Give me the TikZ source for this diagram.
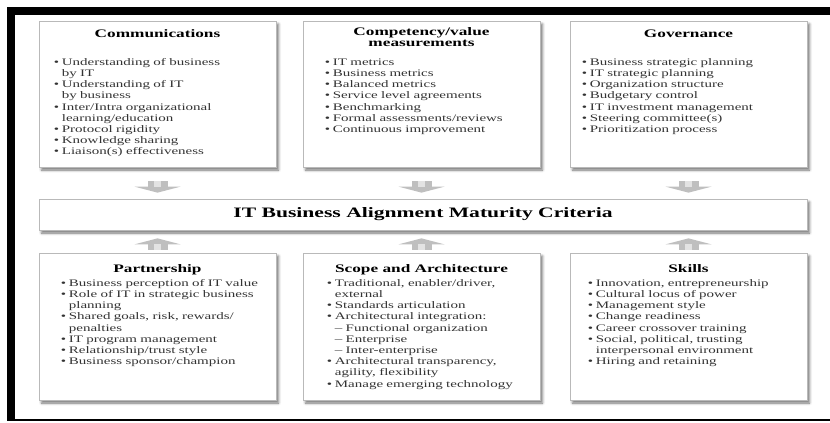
\documentclass[tikz,border=0pt]{standalone}
\usepackage{fontspec}
\setmainfont[FakeStretch=1.5]{Liberation Serif}
\usetikzlibrary{arrows.meta,shadows.blur,calc}

% start of a bulleted line, and the indent of its continuation lines
\newcommand\bl{\strut\makebox[8pt][l]{\textbullet}}
\newcommand\cl{\strut\hspace*{8pt}}

\begin{document}
\begin{tikzpicture}[x=1pt,y=-1pt,
  panel/.style={draw=gray!55, line width=0.7pt, fill=white,
    blur shadow={shadow xshift=2.5pt, shadow yshift=-3pt,
      shadow blur radius=2.5pt, shadow opacity=55},
    minimum width=237pt, inner sep=0pt},
  ttl/.style={font=\bfseries\fontsize{11.5}{11}\selectfont, align=center,
    anchor=north, inner sep=0pt},
  lst/.style={font=\fontsize{10}{11.2}\selectfont, text=black!80,
    text width=230pt, align=left, anchor=north west, inner sep=0pt},
  flowdown/.style={draw=gray!50, line width=20pt,
    -{Triangle[length=6pt,width=46pt,line width=0pt]},
    shorten <=14pt, shorten >=6pt},
  coredown/.style={draw=gray!22, line width=7pt, shorten <=14pt, shorten >=12pt},
  flowup/.style={draw=gray!50, line width=20pt,
    -{Triangle[length=6pt,width=46pt,line width=0pt]},
    shorten <=3pt, shorten >=8pt},
  coreup/.style={draw=gray!22, line width=7pt, shorten <=3pt, shorten >=14pt},
  frame/.style={fill=black}]

\useasboundingbox (0,0) rectangle (830,423);

% black frame: top bar, left bar, bottom rule
\fill[frame] (7,7) rectangle (830,15);
\fill[frame] (7,7) rectangle (15,421);
\fill[frame] (7,418.5) rectangle (830,421);

% upper row of panels
\node[panel, minimum height=146pt] (comm) at (157.5,94) {};
\node[panel, minimum height=146pt] (comp) at (421.5,94) {};
\node[panel, minimum height=146pt] (gov)  at (688.5,94) {};

% central criteria bar
\node[panel, minimum width=768pt, minimum height=31pt,
      font=\bfseries\fontsize{14.4}{16}\selectfont] (crit) at (423,214.5)
      {IT Business Alignment Maturity Criteria};

% lower row of panels
\node[panel, minimum height=147pt] (part)   at (157.5,326.5) {};
\node[panel, minimum height=147pt] (scope)  at (421.5,326.5) {};
\node[panel, minimum height=147pt] (skills) at (688.5,326.5) {};

% panel headings
\node[ttl] (commT) at ($(comm.north)+(0,8.8)$) {\strut Communications};
\node[ttl] (compT) at ($(comp.north)+(0,6.3)$) {\strut Competency/value\\measurements};
\node[ttl] (govT)  at ($(gov.north)+(0,8.8)$) {\strut Governance};
\node[ttl] (partT)   at ($(part.north)+(0,11.3)$) {\strut Partnership};
\node[ttl] (scopeT)  at ($(scope.north)+(0,11.3)$) {\strut Scope and Architecture};
\node[ttl] (skillsT) at ($(skills.north)+(0,11.3)$) {\strut Skills};

% panel contents
\node[lst] (commL) at ($(comm.north west)+(15,36.7)$) {%
  \bl Understanding of business\\
  \cl by IT\\
  \bl Understanding of IT\\
  \cl by business\\
  \bl Inter/Intra organizational\\
  \cl learning/education\\
  \bl Protocol rigidity\\
  \bl Knowledge sharing\\
  \bl Liaison(s) effectiveness};
\node[lst] (compL) at ($(comp.north west)+(22,36.7)$) {%
  \bl IT metrics\\
  \bl Business metrics\\
  \bl Balanced metrics\\
  \bl Service level agreements\\
  \bl Benchmarking\\
  \bl Formal assessments/reviews\\
  \bl Continuous improvement};
\node[lst] (govL) at ($(gov.north west)+(12,36.7)$) {%
  \bl Business strategic planning\\
  \bl IT strategic planning\\
  \bl Organization structure\\
  \bl Budgetary control\\
  \bl IT investment management\\
  \bl Steering committee(s)\\
  \bl Prioritization process};
\node[lst] (partL) at ($(part.north west)+(22,25.7)$) {%
  \bl Business perception of IT value\\
  \bl Role of IT in strategic business\\
  \cl planning\\
  \bl Shared goals, risk, rewards/\\
  \cl penalties\\
  \bl IT program management\\
  \bl Relationship/trust style\\
  \bl Business sponsor/champion};
\node[lst] (scopeL) at ($(scope.north west)+(24,25.7)$) {%
  \bl Traditional, enabler/driver,\\
  \cl external\\
  \bl Standards articulation\\
  \bl Architectural integration:\\
  \cl – Functional organization\\
  \cl – Enterprise\\
  \cl – Inter-enterprise\\
  \bl Architectural transparency,\\
  \cl agility, flexibility\\
  \bl Manage emerging technology};
\node[lst] (skillsL) at ($(skills.north west)+(18,25.7)$) {%
  \bl Innovation, entrepreneurship\\
  \bl Cultural locus of power\\
  \bl Management style\\
  \bl Change readiness\\
  \bl Career crossover training\\
  \bl Social, political, trusting\\
  \cl interpersonal environment\\
  \bl Hiring and retaining};

% block arrows into the criteria bar
\foreach \b in {comm,comp,gov}{
  \draw[flowdown] (\b.south) -- (\b.south |- crit.north);
  \draw[coredown] (\b.south) -- (\b.south |- crit.north);
}
\foreach \b in {part,scope,skills}{
  \draw[flowup] (\b.north) -- (\b.north |- crit.south);
  \draw[coreup] (\b.north) -- (\b.north |- crit.south);
}
\end{tikzpicture}
\end{document}
